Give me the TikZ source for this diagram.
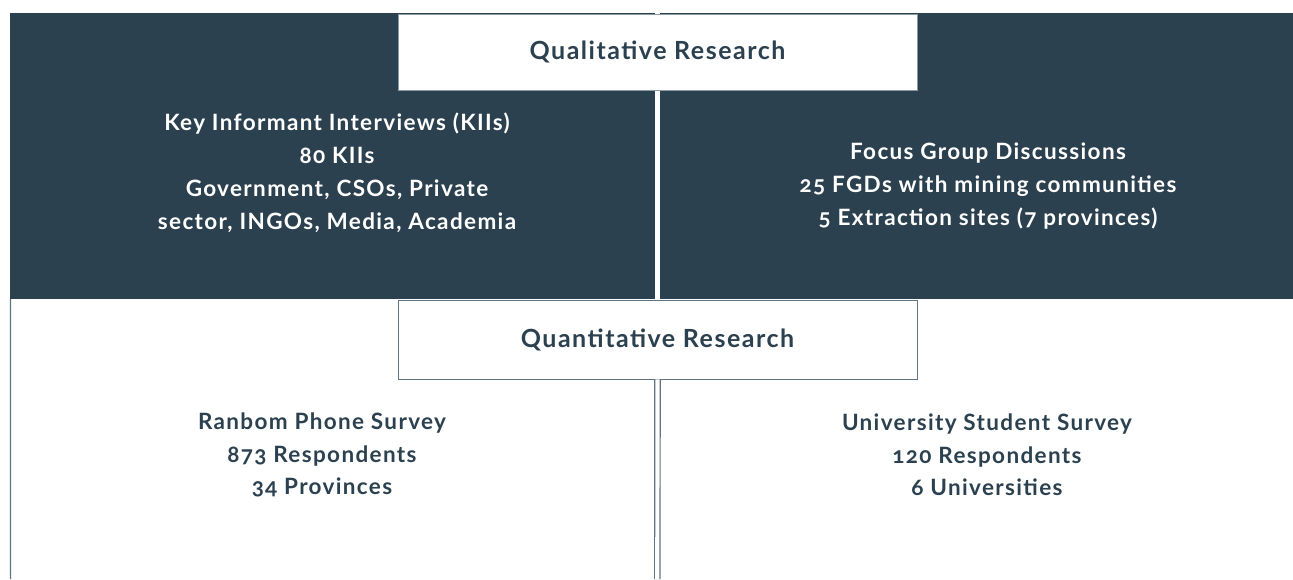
\documentclass[tikz,border=0pt]{standalone}
\usepackage{fontspec}
\setmainfont{Lato}[Numbers=OldStyle, LetterSpace=6]
\usepackage{tikz}
\usetikzlibrary{positioning,calc}
\definecolor{darkslate}{HTML}{2C414F}
\definecolor{boxline}{HTML}{8A9AA5}
\definecolor{gapline}{HTML}{5F7481}

\begin{document}
\begin{tikzpicture}[x=1pt, y=-1pt,
    panel/.style={draw=none, fill=darkslate, inner sep=0pt},
    headbox/.style={draw=boxline, fill=white, line width=0.8pt, minimum width=519pt, minimum height=76pt, inner sep=0pt,
      font=\fontsize{25}{30}\selectfont\bfseries, text=darkslate},
    light/.style={align=center, font=\fontsize{22.5}{33}\selectfont\bfseries, text=white},
    darktext/.style={align=center, font=\fontsize{22.5}{32.5}\selectfont\bfseries, text=darkslate},
    sideline/.style={draw=gapline, line width=1.2pt},
    split/.style={draw=gapline, double=white, double distance=4.2pt, line width=1.2pt}]
  \useasboundingbox (0,0) rectangle (1293,579);
  % Qualitative panels
  \node[panel, minimum width=645pt, minimum height=286pt] (qlleft) at (332.5,156) {};
  \node[panel, minimum width=633pt, minimum height=286pt] (qlright) at (976.5,156) {};
  \node[headbox] (qual) at (657.5,52) {Qualitative Research};
  \node[light] (kii) at (337,173) {Key Informant Interviews (KIIs)\\80 KIIs\\Government, CSOs, Private\\sector, INGOs, Media, Academia};
  \node[light] (fgd) at (988,186) {Focus Group Discussions\\25 FGDs with mining communities\\5 Extraction sites (7 provinces)};
  % Quantitative part
  \node[headbox, draw=gapline, minimum height=79pt] (quant) at (657.5,339.5) {Quantitative Research};
  \node[darktext] (phone) at (322,455) {Ranbom Phone Survey\\873 Respondents\\34 Provinces};
  \node[darktext] (uni) at (987,455) {University Student Survey\\120 Respondents\\6 Universities};
  \coordinate (leftend) at (10.6,579);
  \coordinate (splitend) at (657.3,579);
  \draw[sideline] (qlleft.south west) ++(0.6,0) -- (leftend);
  \draw[split] (quant.south) -- (splitend);
\end{tikzpicture}
\end{document}
